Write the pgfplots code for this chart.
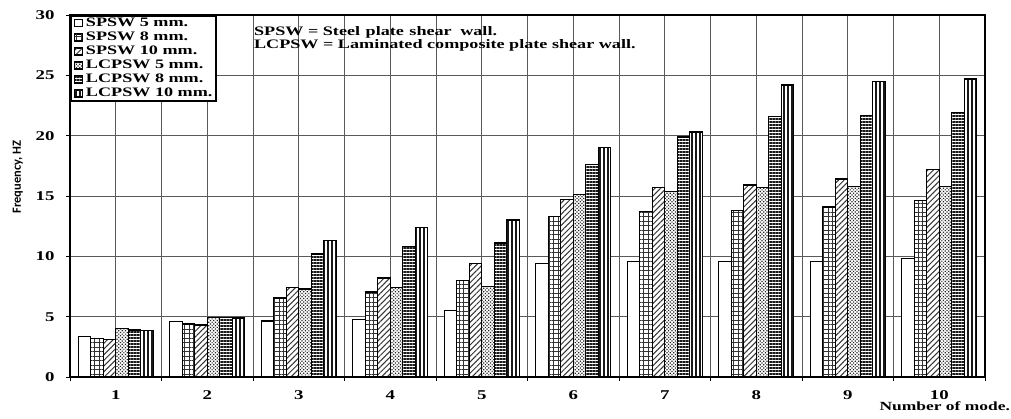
\documentclass[border=0pt]{standalone}
\usepackage{fontspec}
\setmainfont{Liberation Serif}[FakeStretch=1.4]
\newfontfamily\ylabfont{Carlito}
\usepackage{pgfplots}
\usepackage{pgfplotstable}
\pgfplotsset{compat=1.18}
\usetikzlibrary{patterns.meta}

\pgfplotstableread{
mode s5 s8 s10 l5 l8 l10
1 3.35 3.2 3.1 4.0 3.9 3.85
2 4.6 4.4 4.3 4.95 4.95 4.9
3 4.65 6.55 7.4 7.3 10.2 11.3
4 4.75 7.05 8.2 7.4 10.8 12.4
5 5.5 8.0 9.4 7.5 11.1 13.0
6 9.4 13.3 14.7 15.1 17.6 19.0
7 9.6 13.7 15.7 15.4 19.9 20.3
8 9.6 13.8 15.9 15.7 21.6 24.2
9 9.6 14.1 16.4 15.8 21.7 24.5
10 9.8 14.6 17.2 15.8 21.9 24.7
}\datatable

\begin{document}
\begin{tikzpicture}
\path[use as bounding box] (0,0) rectangle (1011bp,419bp);
\begin{axis}[
  at={(70bp,42bp)}, anchor=south west,
  scale only axis, width=915bp, height=362bp,
  xmin=0.5, xmax=10.5, ymin=0, ymax=30,
  xtick={0.5,1.5,...,10.5},
  xticklabels={1,2,3,4,5,6,7,8,9,10,{}},
  xticklabel style={xshift=45.75bp, yshift=-6bp},
  yticklabel style={xshift=-8bp},
  minor xtick={1,...,10},
  ytick={0,5,...,30},
  grid=both,
  major grid style={draw=black!65, line width=0.9pt},
  minor grid style={draw=black!65, line width=0.9pt},
  minor tick length=0pt,
  major tick length=4bp,
  tick align=outside,
  tick pos=left,
  tick style={black, line width=1pt},
  axis line style={line width=2pt},
  ticklabel style={font=\fontsize{13.5}{15}\selectfont\bfseries},
  /pgf/number format/assume math mode=true,
  ybar, bar width=0.1366,
  xlabel={Number of mode.},
  xlabel style={at={(axis description cs:0.956,-0.082)}, anchor=center, font=\fontsize{12.5}{14}\selectfont\bfseries},
  ylabel={Frequency, HZ},
  ylabel style={at={(axis description cs:-0.057,0.552)}, anchor=center, font=\ylabfont\bfseries\fontsize{12.5}{15}\selectfont},
  legend style={at={(0,1)}, anchor=north west, draw=black, line width=2pt, fill=white,
    inner xsep=3bp, inner ysep=0.5bp, font=\fontsize{13}{14}\selectfont\bfseries,
    row sep=0pt, column sep=2bp, nodes={inner sep=1bp, text height=9bp, text depth=3bp}},
  legend cell align=left,
  legend image code/.code={\draw[#1, line width=1pt] (0bp,-3.5bp) rectangle (8bp,3.5bp);},
]
\addplot[draw=black, line width=1.3pt, fill=white, bar shift=-0.3415] table[x=mode,y=s5]{\datatable};
\addplot[draw=black, line width=1.3pt, preaction={fill=white}, pattern={Hatch[angle=0,distance=4.5bp,line width=0.5pt]}, pattern color=black!80, bar shift=-0.2049] table[x=mode,y=s8]{\datatable};
\addplot[draw=black, line width=1.3pt, preaction={fill=white}, pattern={Lines[angle=45,distance=4bp,line width=1pt]}, pattern color=black!80, bar shift=-0.0683] table[x=mode,y=s10]{\datatable};
\addplot[draw=black, line width=1.3pt, preaction={fill=white}, pattern={Dots[angle=45,distance=2.4bp,radius=0.85bp]}, pattern color=black!85, bar shift=0.0683] table[x=mode,y=l5]{\datatable};
\addplot[draw=black, line width=1.3pt, preaction={fill=white}, pattern={Lines[angle=0,distance=3bp,line width=1.2pt]}, pattern color=black!90, bar shift=0.2049] table[x=mode,y=l8]{\datatable};
\addplot[draw=black, line width=1.3pt, preaction={fill=white}, pattern={Lines[angle=90,distance=4bp,line width=1.5pt]}, pattern color=black!90, bar shift=0.3415] table[x=mode,y=l10]{\datatable};
\legend{SPSW 5 mm., SPSW 8 mm., SPSW 10 mm., LCPSW 5 mm., LCPSW 8 mm., LCPSW 10 mm.}
\node[anchor=north west, inner sep=0pt, align=left, font=\fontsize{13}{14}\selectfont\bfseries] at (axis description cs:0.201,0.97) {SPSW = Steel\hspace{1bp} plate\hspace{1bp} shear\hspace{4bp} wall.\\LCPSW = Laminated composite plate shear wall.};
\end{axis}
\end{tikzpicture}
\end{document}
